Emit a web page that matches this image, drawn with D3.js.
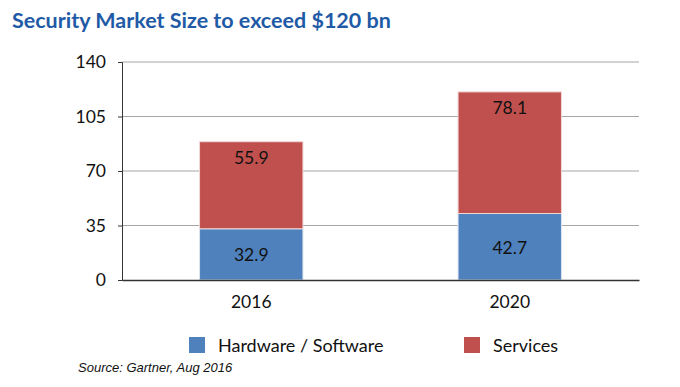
<!DOCTYPE html>
<html><head><meta charset="utf-8">
<script src="https://cdn.jsdelivr.net/npm/d3@7"></script>
<style>body{margin:0;background:#fff}</style>
</head><body>
<svg id="c" width="680" height="387"></svg>
<script>
const categories = ["2016", "2020"];
const hardwareSoftware = [32.9, 42.7];
const services = [55.9, 78.1];
const yTicks = [0, 35, 70, 105, 140];
const seriesNames = ["Hardware / Software", "Services"];
const colors = ["#4f81bd", "#c0504d"];

const svg = d3.select("#c");
const font = "Lato, 'Open Sans', sans-serif";

svg.append("text").attr("x", 12).attr("y", 28)
  .attr("font-family", font).attr("font-weight", "bold").attr("font-size", 21.5)
  .attr("fill", "#1f5aa6").text("Security Market Size to exceed $120 bn");

const x = d3.scaleBand().domain(categories).range([122, 639]).paddingInner(0.6).paddingOuter(0.3);
const y = d3.scaleLinear().domain([0, 140]).range([280, 62]);

// gridlines
svg.append("g").selectAll("line").data(yTicks.slice(1)).join("line")
  .attr("x1", 122).attr("x2", 639).attr("y1", d => y(d)).attr("y2", d => y(d))
  .attr("stroke", "#a6a6a6").attr("stroke-width", 1);

const data = categories.map((c, i) => ({c, hw: hardwareSoftware[i], sv: services[i]}));

const g = svg.append("g");
data.forEach(d => {
  g.append("rect").attr("x", x(d.c)).attr("width", x.bandwidth())
    .attr("y", y(d.hw)).attr("height", y(0) - y(d.hw))
    .attr("fill", colors[0]).attr("stroke", "#dbe4f0").attr("stroke-width", 1);
  g.append("rect").attr("x", x(d.c)).attr("width", x.bandwidth())
    .attr("y", y(d.hw + d.sv)).attr("height", y(d.hw) - y(d.hw + d.sv))
    .attr("fill", colors[1]).attr("stroke", "#f0d8d8").attr("stroke-width", 1);
  g.append("text").attr("x", x(d.c) + x.bandwidth() / 2).attr("y", (y(0) + y(d.hw)) / 2 + 7)
    .attr("text-anchor", "middle").attr("font-family", font).attr("font-size", 17.5)
    .attr("fill", "#111").text(d.hw);
  g.append("text").attr("x", x(d.c) + x.bandwidth() / 2).attr("y", y(d.hw + d.sv) + 22)
    .attr("text-anchor", "middle").attr("font-family", font).attr("font-size", 17.5)
    .attr("fill", "#111").text(d.sv);
});

// y axis
const yAxis = svg.append("g").attr("transform", "translate(122,0)")
  .call(d3.axisLeft(y).tickValues(yTicks).tickSize(4).tickPadding(12));
yAxis.select(".domain").attr("stroke", "#333");
yAxis.selectAll(".tick line").attr("stroke", "#333");
yAxis.selectAll("text").attr("font-family", font).attr("font-size", 17.5).attr("fill", "#111");

// x axis
const xAxis = svg.append("g").attr("transform", "translate(0,280)")
  .call(d3.axisBottom(x).tickSize(0).tickPadding(16).tickSizeOuter(0));
xAxis.select(".domain").attr("stroke", "#333").attr("stroke-width", 1.5);
xAxis.selectAll("text").attr("font-family", font).attr("font-size", 17.5).attr("fill", "#111");

// legend
const legX = [189, 464];
seriesNames.forEach((n, i) => {
  svg.append("rect").attr("x", legX[i]).attr("y", 337).attr("width", 16).attr("height", 16)
    .attr("fill", colors[i]);
  svg.append("text").attr("x", legX[i] + 29).attr("y", 352)
    .attr("font-family", font).attr("font-size", 18).attr("fill", "#111").text(n);
});

svg.append("text").attr("x", 78).attr("y", 372)
  .attr("font-family", "'Liberation Sans', Arial, sans-serif").attr("font-style", "italic")
  .attr("font-size", 13).attr("fill", "#111").text("Source: Gartner, Aug 2016");
</script>
</body></html>
